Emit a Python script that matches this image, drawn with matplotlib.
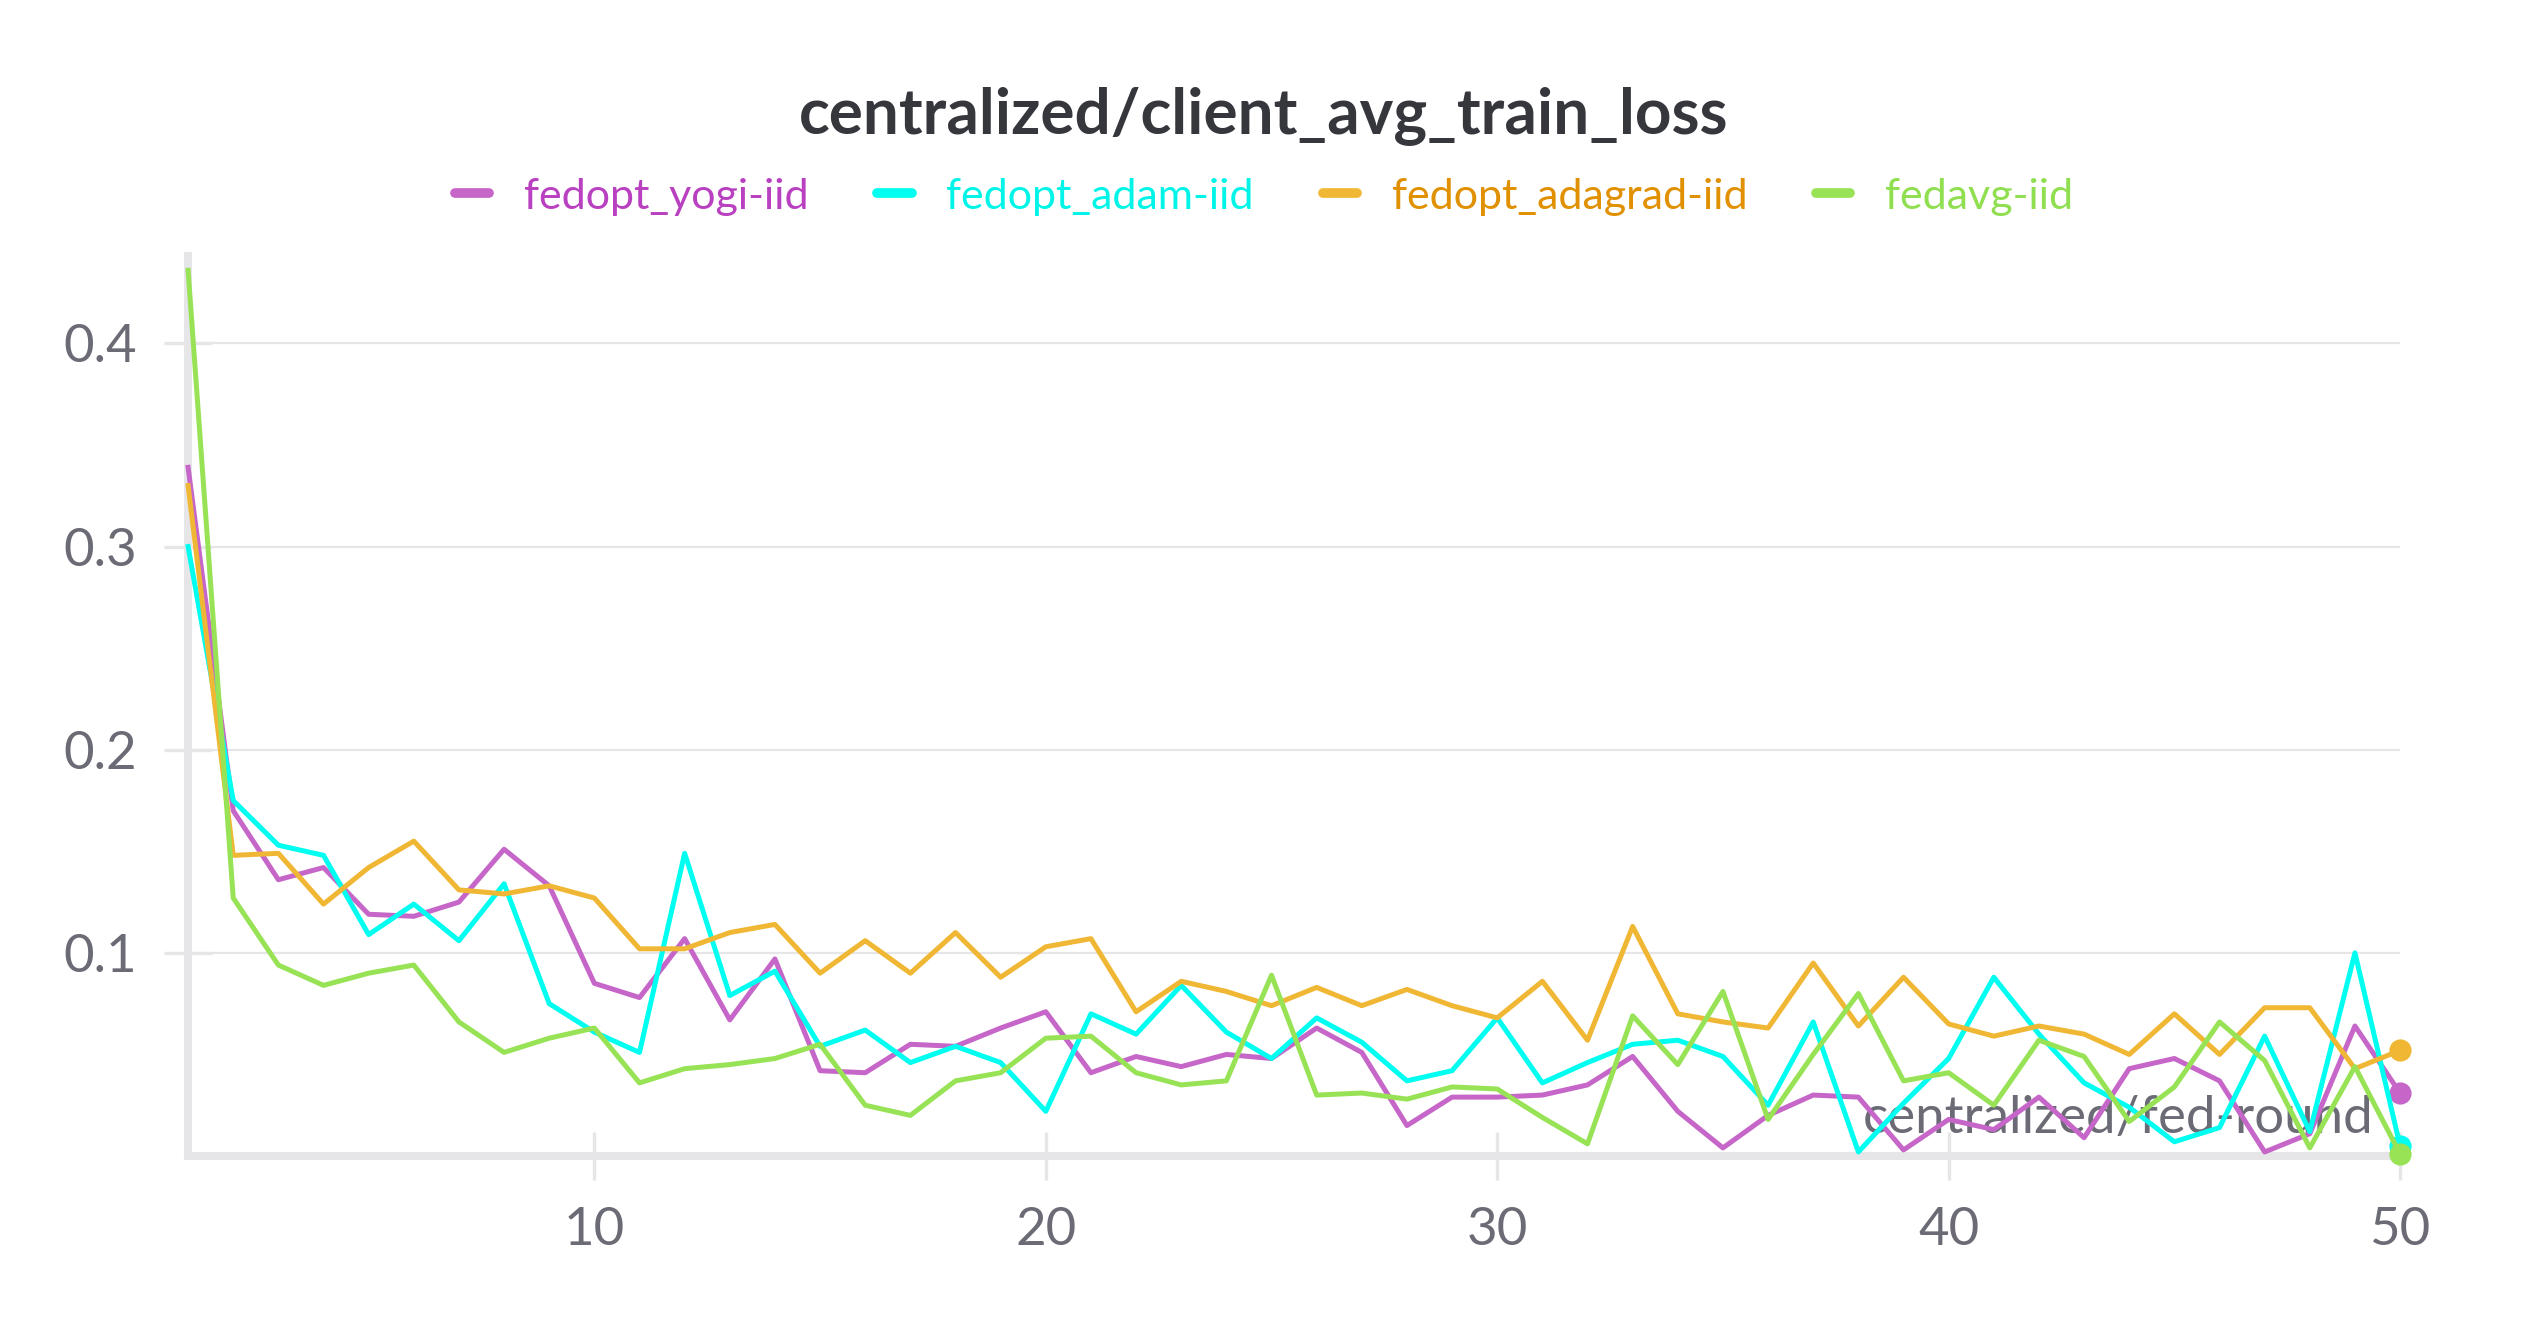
import numpy as np
import matplotlib
matplotlib.use("Agg")
import matplotlib.pyplot as plt
from matplotlib.lines import Line2D

plt.rcParams['font.family'] = ['Lato', 'DejaVu Sans']

rounds = list(range(1, 51))

yogi = [0.339, 0.170, 0.136, 0.142, 0.119, 0.118, 0.125, 0.151, 0.133, 0.085,
        0.078, 0.107, 0.067, 0.097, 0.042, 0.041, 0.055, 0.054, 0.063, 0.071,
        0.041, 0.049, 0.044, 0.050, 0.048, 0.063, 0.051, 0.015, 0.029, 0.029,
        0.030, 0.035, 0.049, 0.022, 0.004, 0.020, 0.030, 0.029, 0.003, 0.018,
        0.013, 0.029, 0.009, 0.043, 0.048, 0.037, 0.002, 0.011, 0.064, 0.031]

adam = [0.300, 0.175, 0.153, 0.148, 0.109, 0.124, 0.106, 0.134, 0.075, 0.061,
        0.051, 0.149, 0.079, 0.091, 0.054, 0.062, 0.046, 0.054, 0.046, 0.022,
        0.070, 0.060, 0.084, 0.061, 0.048, 0.068, 0.056, 0.037, 0.042, 0.068,
        0.036, 0.046, 0.055, 0.057, 0.049, 0.025, 0.066, 0.002, 0.026, 0.048,
        0.088, 0.060, 0.036, 0.024, 0.007, 0.014, 0.059, 0.012, 0.100, 0.005]

adagrad = [0.330, 0.148, 0.149, 0.124, 0.142, 0.155, 0.131, 0.129, 0.133, 0.127,
           0.102, 0.102, 0.110, 0.114, 0.090, 0.106, 0.090, 0.110, 0.088, 0.103,
           0.107, 0.071, 0.086, 0.081, 0.074, 0.083, 0.074, 0.082, 0.074, 0.068,
           0.086, 0.057, 0.113, 0.070, 0.066, 0.063, 0.095, 0.064, 0.088, 0.065,
           0.059, 0.064, 0.060, 0.050, 0.070, 0.050, 0.073, 0.073, 0.043, 0.052]

fedavg = [0.436, 0.127, 0.094, 0.084, 0.090, 0.094, 0.066, 0.051, 0.058, 0.063,
          0.036, 0.043, 0.045, 0.048, 0.055, 0.025, 0.020, 0.037, 0.041, 0.058,
          0.059, 0.041, 0.035, 0.037, 0.089, 0.030, 0.031, 0.028, 0.034, 0.033,
          0.019, 0.006, 0.069, 0.045, 0.081, 0.018, 0.050, 0.080, 0.037, 0.041,
          0.025, 0.057, 0.049, 0.017, 0.034, 0.066, 0.047, 0.004, 0.044, 0.001]

names = ['fedopt_yogi-iid', 'fedopt_adam-iid', 'fedopt_adagrad-iid', 'fedavg-iid']
series = [yogi, adam, adagrad, fedavg]
line_colors = ['#c566c8', '#00fff0', '#f0b734', '#98e256']
text_colors = ['#b940c0', '#00f5e8', '#e09000', '#8fdf50']

grey = '#6b6b76'
light = '#e6e6e9'

fig = plt.figure(figsize=(12.64, 6.64), dpi=200)
ax = fig.add_axes([0.0744, 0.1295, 0.875, 0.6777])

for vals, c, n in zip(series, line_colors, names):
    ax.plot(rounds, vals, color=c, lw=1.8, label=n, zorder=3,
            marker='o', markevery=[len(vals) - 1], ms=7, clip_on=False)

ax.set_xlim(1, 50)
ax.set_ylim(0, 0.443)
ax.set_xticks([10, 20, 30, 40, 50])
ax.set_yticks([0.1, 0.2, 0.3, 0.4])
ax.set_yticklabels(['0.1', '0.2', '0.3', '0.4'])

ax.grid(axis='y', color=light, lw=0.8, zorder=0)
for s in ['top', 'right']:
    ax.spines[s].set_visible(False)
for s in ['left', 'bottom']:
    ax.spines[s].set_color(light)
    ax.spines[s].set_linewidth(2.9)
    ax.spines[s].set_zorder(2)

ax.tick_params(axis='both', direction='inout', length=17, width=1.2,
               color=light, labelcolor=grey, labelsize=19)
ax.tick_params(axis='x', pad=10)
ax.tick_params(axis='y', pad=10)

ax.set_xlabel('centralized/fed-round', fontsize=19, color=grey,
              ha='right', va='baseline')
ax.xaxis.set_label_coords(0.988, 0.026)

fig.text(0.5, 0.913, 'centralized/client_avg_train_loss', ha='center',
         va='center', fontsize=23, fontweight='bold', color='#35373d')

leg_handles = [Line2D([], [], color=c, lw=3.5, solid_capstyle='round')
               for c in line_colors]
leg = fig.legend(leg_handles, names, loc='center', bbox_to_anchor=(0.5, 0.852),
                 ncol=4, frameon=False, fontsize=15.5, handlelength=0.8,
                 handletextpad=0.8, columnspacing=1.6)
for t, c in zip(leg.get_texts(), text_colors):
    t.set_color(c)

fig.savefig('out.png', dpi=200)
